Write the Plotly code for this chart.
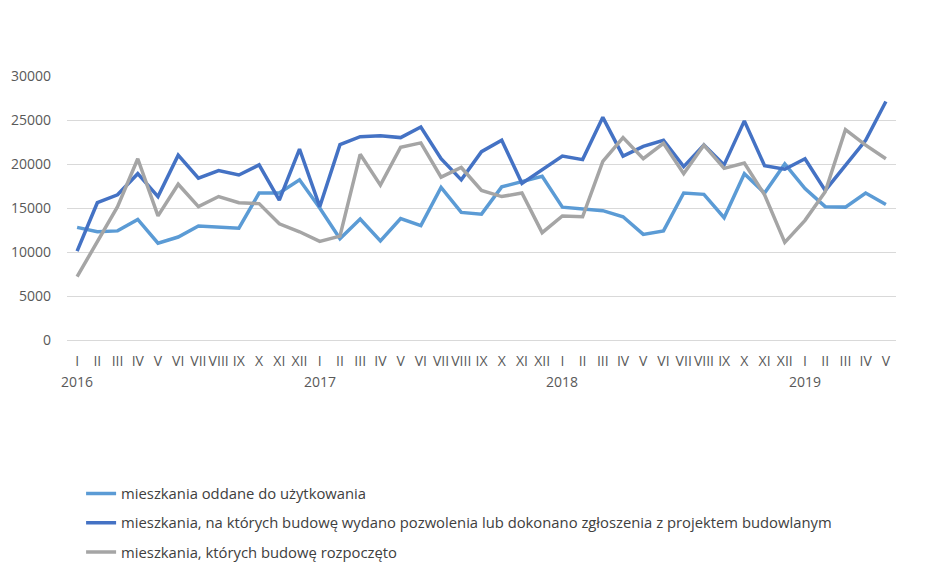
import plotly.graph_objects as go

months = ["I", "II", "III", "IV", "V", "VI", "VII", "VIII", "IX", "X", "XI", "XII"]
years = ["2016", "2017", "2018", "2019"]
n_points = 41

oddane = [12800, 12300, 12400, 13700, 11000, 11700, 12950, 12800, 12700, 16700, 16700, 18200,
          15000, 11500, 13750, 11250, 13800, 13000, 17350, 14500, 14300, 17400, 18000, 18600,
          15100, 14900, 14700, 14000, 12000, 12400, 16700, 16550, 13900, 18900, 16700, 20000,
          17200, 15150, 15100, 16700, 15400]
pozwolenia = [10100, 15600, 16500, 18900, 16300, 21000, 18400, 19250, 18750, 19900, 15900, 21700,
              15150, 22200, 23100, 23200, 23000, 24200, 20600, 18200, 21400, 22700, 17800, 19300,
              20900, 20500, 25300, 20900, 22000, 22700, 19700, 22150, 19900, 24900, 19800, 19400,
              20600, 17000, 19800, 22700, 27100]
rozpoczete = [7200, 11200, 15150, 20600, 14100, 17700, 15150, 16300, 15600, 15500, 13200, 12300,
              11200, 11800, 21100, 17600, 21900, 22400, 18500, 19600, 17000, 16300, 16700, 12200,
              14100, 14000, 20300, 23000, 20600, 22350, 18900, 22150, 19500, 20100, 16500, 11100,
              13600, 16850, 23900, 22150, 20600]

names = ["mieszkania oddane do użytkowania",
         "mieszkania, na których budowę wydano pozwolenia lub dokonano zgłoszenia z projektem budowlanym",
         "mieszkania, których budowę rozpoczęto"]
colors = ["#5B9BD5", "#4472C4", "#A5A5A5"]

x_idx = list(range(n_points))
tick_text = [months[i % 12] for i in x_idx]

fig = go.Figure()
for k, (vals, nm, col) in enumerate(zip([oddane, pozwolenia, rozpoczete], names, colors)):
    fig.add_trace(go.Scatter(x=x_idx, y=vals, mode="lines", name=nm,
                             line=dict(color=col, width=3.5), legendgroup=str(k)))

for j, yr in enumerate(years):
    fig.add_annotation(x=j * 12, y=0, xref="x", yref="paper", yanchor="top",
                       yshift=-30, text=yr, showarrow=False,
                       font=dict(family="Open Sans", size=14, color="#595959"))

fig.update_layout(
    width=945, height=572,
    margin=dict(l=59, r=57, t=68, b=240, autoexpand=False),
    paper_bgcolor="white", plot_bgcolor="white",
    font=dict(family="Open Sans", size=14, color="#595959"),
    showlegend=True,
    legend=dict(orientation="v", x=0.017, xanchor="left", y=-0.52, yanchor="top",
                font=dict(family="Open Sans", size=14.8, color="#404040"),
                tracegroupgap=7, itemwidth=30),
)
fig.update_xaxes(tickmode="array", tickvals=x_idx, ticktext=tick_text,
                 range=[-0.5, n_points - 0.5], showgrid=False, zeroline=False,
                 showline=False, ticks="", tickangle=0, automargin=False,
                 ticklabelstandoff=11,
                 tickfont=dict(family="Open Sans", size=14, color="#595959"))
fig.update_yaxes(range=[0, 30000], dtick=5000, tickformat="d", showgrid=True,
                 gridcolor="#D9D9D9", gridwidth=1, zeroline=True, zerolinecolor="#D9D9D9",
                 zerolinewidth=1, showline=False, ticks="", automargin=False,
                 ticklabelstandoff=15,
                 tickfont=dict(family="Open Sans", size=14, color="#595959"))

fig.write_html("out.html")
